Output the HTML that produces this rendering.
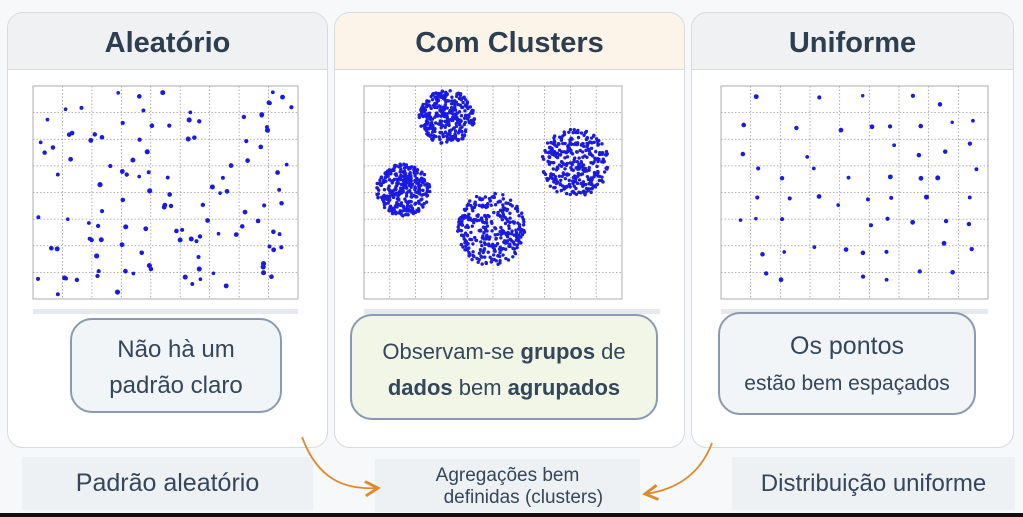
<!DOCTYPE html>
<html><head><meta charset="utf-8"><style>
body{margin:0;width:1023px;height:517px;background:#f7f8f9;position:relative;overflow:hidden;font-family:"Liberation Sans","DejaVu Sans",sans-serif;color:#2e3f52}
.p{position:absolute;top:12px;height:434px;background:#fff;border:1px solid #d6dbe0;border-radius:16px;overflow:hidden}
.h{height:56px;border-bottom:1px solid #d6dbe0;text-align:center;line-height:60px;font-size:29px;font-weight:bold;color:#2c3e50}
.c{position:absolute;border:2.5px solid #8a9ab0;border-radius:22px;text-align:center;font-size:24px;color:#34465a}
.b{position:absolute;background:#eef1f4;font-size:25px;color:#34465a;text-align:center}
svg{position:absolute;left:0;top:0}
</style></head><body>
<div class="p" style="left:7px;width:319px"><div class="h" style="background:#eff1f3">Aleatório</div></div>
<div class="p" style="left:334px;width:349px"><div class="h" style="background:#fcf4e9">Com Clusters</div></div>
<div class="p" style="left:691px;width:321px"><div class="h" style="background:#eff1f3">Uniforme</div></div>
<div style="position:absolute;left:33px;top:309px;width:265px;height:5px;background:#e6e9ed"></div>
<div style="position:absolute;left:364px;top:309px;width:296px;height:5px;background:#e6e9ed"></div>
<div style="position:absolute;left:721px;top:309px;width:267px;height:5px;background:#e6e9ed"></div>
<div class="c" style="left:70px;top:318px;width:212px;height:95px;background:#f2f5f8;line-height:36px;padding-top:12px;box-sizing:border-box">Não hà um<br>padrão claro</div>
<div class="c" style="left:350px;top:314px;width:308px;height:106px;background:#f1f6e6;line-height:36px;padding-top:18px;box-sizing:border-box;font-size:22px">Observam-se <b>grupos</b> de<br><b>dados</b> bem <b>agrupados</b></div>
<div class="c" style="left:718px;top:312px;width:258px;height:103px;background:#f2f5f8;line-height:36px;padding-top:14px;box-sizing:border-box;font-size:25px">Os pontos<br><span style="font-size:21px">estão bem espaçados</span></div>
<div class="b" style="left:22px;top:457px;width:291px;height:53px;line-height:53px">Padrão aleatório</div>
<div class="b" style="left:375px;top:459px;width:265px;height:53px;font-size:19px;line-height:22px;padding-top:6px;box-sizing:border-box">Agregações bem<br>&nbsp;&nbsp;&nbsp;&nbsp;&nbsp;&nbsp;definidas (clusters)</div>
<div class="b" style="left:732px;top:457px;width:283px;height:53px;line-height:53px;font-size:24px">Distribuição uniforme</div>
<div style="position:absolute;left:0;top:513px;width:1023px;height:4px;background:#111"></div>
<svg id="s" width="1023" height="517">
<defs><marker id="a" markerWidth="10" markerHeight="10" refX="8" refY="5" orient="auto"><path d="M1,1 L8,5 L1,9" fill="none" stroke="#e08a30" stroke-width="1.6"/></marker></defs>
<path d="M302,437 C318,480 345,490 378,488" fill="none" stroke="#e08a30" stroke-width="1.8" marker-end="url(#a)"/>
<path d="M712,443 C700,475 675,490 645,494" fill="none" stroke="#e08a30" stroke-width="1.8" marker-end="url(#a)"/>
</svg>
<script>
var s=document.getElementById('s'),N='http://www.w3.org/2000/svg';
function el(t,a){var e=document.createElementNS(N,t);for(var k in a)e.setAttribute(k,a[k]);s.appendChild(e);return e}
var seed=7;function r(){seed=(seed*16807)%2147483647;return seed/2147483647}
function plot(x,y,w,h,nc,nr){el('rect',{x:x,y:y,width:w,height:h,fill:'#fff',stroke:'#bbb','stroke-width':1.2});
for(var i=1;i<nc;i++){var xx=x+w*i/nc;el('line',{x1:xx,y1:y,x2:xx,y2:y+h,stroke:'#999','stroke-dasharray':'1.5,2','stroke-width':0.8})}
for(var j=1;j<nr;j++){var yy=y+h*j/nr;el('line',{x1:x,y1:yy,x2:x+w,y2:yy,stroke:'#999','stroke-dasharray':'1.5,2','stroke-width':0.8})}}
function dot(x,y,rr){el('circle',{cx:x,cy:y,r:rr||2,fill:'#1a1ae0'})}
plot(33,86,265,213,9,8);plot(364,86,258,213,10,8);plot(721,86,267,213,9,8);
for(var i=0;i<120;i++)dot(38+r()*255,92+r()*203,1.8+r()*0.8);
for(var gx=0;gx<10;gx++)for(var gy=0;gy<8;gy++)if(r()<0.8)dot(729+gx*26+r()*16,93+gy*25+r()*14,1.7+r()*0.8);
var cl=[[447,117,28,27],[403,190,27,26],[575,163,34,34],[491,229,34,37]];
cl.forEach(function(c){for(var i=0;i<320;i++){var a=r()*6.283,d=Math.sqrt(r());dot(c[0]+Math.cos(a)*d*c[2],c[1]+Math.sin(a)*d*c[3],1.7)}});
</script>
</body></html>
